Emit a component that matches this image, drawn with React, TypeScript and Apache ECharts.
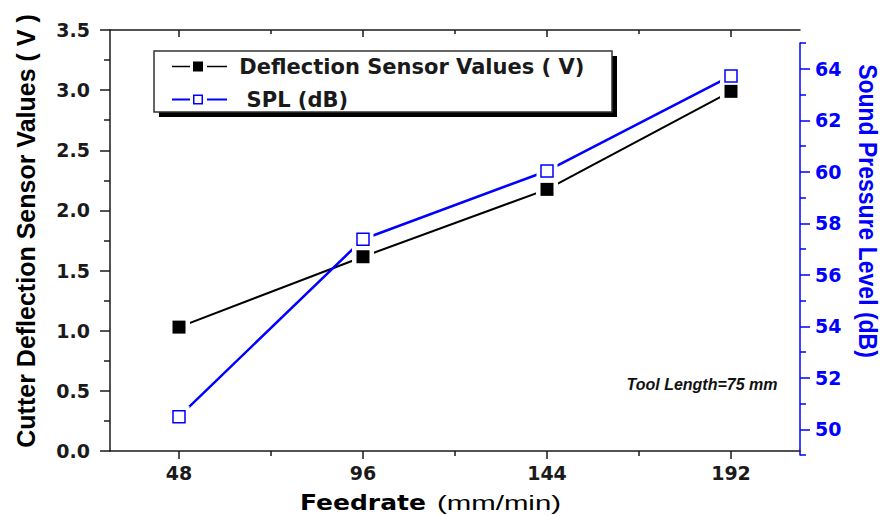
import React, { useEffect, useRef } from "react";
import * as echarts from "echarts";

// ---- data ----
const feedrates = [48, 96, 144, 192];
const deflectionV = [1.03, 1.615, 2.175, 2.99];
const splDb = [50.49, 57.38, 60.03, 63.72];
const xTickValues = [48, 96, 144, 192];
const xMinorTickValues = [72, 120, 168];
const splTickValues = [50, 52, 54, 56, 58, 60, 62, 64];
const splMinorTickValues = [49, 51, 53, 55, 57, 59, 61, 63, 65];

const NAME_DEFL = "Deflection Sensor Values ( V)";
const NAME_SPL = "SPL (dB)";
const X_TITLE_BOLD = "Feedrate";
const X_TITLE_UNIT = "(mm/min)";
const Y_LEFT_TITLE = "Cutter Deflection Sensor Values ( V )";
const Y_RIGHT_TITLE = "Sound Pressure Level (dB)";
const NOTE = "Tool Length=75 mm";

const BLUE = "#0000ff";
const DARK = "#1a1a1a";
const TICK_FONT = "DejaVu Sans";

const deflData = feedrates.map((f, i) => [f, deflectionV[i]]);
const splData = feedrates.map((f, i) => [f, splDb[i]]);

// legend icons: line - gap - square - gap - line (Origin style)
const ICON_FILLED =
  "path://M0,4.2L18,4.2L18,5.8L0,5.8Z M21,0L31,0L31,10L21,10Z M35,4.2L55,4.2L55,5.8L35,5.8Z";
const ICON_HOLLOW =
  "path://M0,4L18,4L18,6L0,6Z M21,0L31,0L31,10L21,10Z M22.5,1.5L22.5,8.5L29.5,8.5L29.5,1.5Z M35,4L55,4L55,6L35,6Z";

const tickLabelStyle = {
  fontFamily: TICK_FONT,
  fontWeight: "bold" as const,
  fontSize: 19,
  color: DARK,
};

function buildOption(): any {
  const xBase = {
    type: "value",
    min: 30,
    max: 210,
    splitLine: { show: false },
  };
  return {
    animation: false,
    backgroundColor: "#ffffff",
    grid: [
      { left: 110, right: 86, top: 30, bottom: 65 },
      { left: 110, right: 86, top: 43, bottom: 61 },
    ],
    xAxis: [
      {
        ...xBase,
        gridIndex: 0,
        position: "bottom",
        axisLine: { show: true, onZero: false, lineStyle: { color: DARK, width: 1.5 } },
        axisTick: { show: true, customValues: xTickValues, length: 8, lineStyle: { color: DARK, width: 1.5 } },
        axisLabel: { show: true, customValues: xTickValues, margin: 12, ...tickLabelStyle },
      },
      {
        ...xBase,
        gridIndex: 0,
        position: "bottom",
        axisLine: { show: false, onZero: false },
        axisTick: { show: true, customValues: xMinorTickValues, length: 5, lineStyle: { color: DARK, width: 1.5 } },
        axisLabel: { show: false },
      },
      {
        ...xBase,
        gridIndex: 0,
        position: "top",
        axisLine: { show: true, onZero: false, lineStyle: { color: DARK, width: 1.5 } },
        axisTick: { show: true, inside: true, customValues: xTickValues, length: 7, lineStyle: { color: DARK, width: 1.5 } },
        axisLabel: { show: false },
      },
      {
        ...xBase,
        gridIndex: 0,
        position: "top",
        axisLine: { show: false, onZero: false },
        axisTick: { show: true, inside: true, customValues: xMinorTickValues, length: 4, lineStyle: { color: DARK, width: 1.5 } },
        axisLabel: { show: false },
      },
      {
        ...xBase,
        gridIndex: 1,
        show: false,
        axisLine: { onZero: false },
      },
    ],
    yAxis: [
      {
        type: "value",
        gridIndex: 0,
        position: "left",
        min: 0,
        max: 3.5,
        interval: 0.5,
        axisLine: { show: true, onZero: false, lineStyle: { color: DARK, width: 1.5 } },
        axisTick: { show: true, length: 10, lineStyle: { color: DARK, width: 1.5 } },
        minorTick: { show: true, splitNumber: 2, length: 6, lineStyle: { color: DARK, width: 1.5 } },
        axisLabel: { margin: 20, formatter: (v: number) => v.toFixed(1), ...tickLabelStyle },
        splitLine: { show: false },
        minorSplitLine: { show: false },
      },
      {
        type: "value",
        gridIndex: 1,
        position: "right",
        min: 49,
        max: 65,
        axisLine: { show: true, onZero: false, lineStyle: { color: BLUE, width: 1.5 } },
        axisTick: { show: true, customValues: splTickValues, length: 10, lineStyle: { color: BLUE, width: 1.5 } },
        axisLabel: { customValues: splTickValues, margin: 15, ...tickLabelStyle, color: BLUE },
        splitLine: { show: false },
      },
      {
        type: "value",
        gridIndex: 1,
        position: "right",
        min: 49,
        max: 65,
        axisLine: { show: false, onZero: false },
        axisTick: { show: true, customValues: splMinorTickValues, length: 6, lineStyle: { color: BLUE, width: 1.5 } },
        axisLabel: { show: false },
        splitLine: { show: false },
      },
    ],
    legend: {
      orient: "vertical",
      left: 154,
      top: 50,
      z: 20,
      data: [
        { name: NAME_DEFL, icon: ICON_FILLED, itemStyle: { color: "#000", borderWidth: 0 } },
        { name: NAME_SPL, icon: ICON_HOLLOW, itemStyle: { color: BLUE, borderWidth: 0 } },
      ],
      formatter: (n: string) => (n === NAME_SPL ? "  " + n : " " + n),
      itemWidth: 55,
      itemHeight: 10,
      itemGap: 12,
      padding: [6, 40, 2, 18],
      selectedMode: false,
      textStyle: { fontFamily: TICK_FONT, fontWeight: "bold", fontSize: 21, color: DARK },
    },
    graphic: [
      { type: "rect", z: 10, shape: { x: 159, y: 56, width: 458, height: 61 }, style: { fill: "#000" } },
      { type: "rect", z: 11, shape: { x: 154, y: 51, width: 458, height: 61 }, style: { fill: "#fff", stroke: "#333", lineWidth: 1.5 } },
      {
        type: "text",
        x: 26,
        y: 231,
        rotation: Math.PI / 2,
        style: {
          text: Y_LEFT_TITLE,
          fontFamily: "Liberation Sans",
          fontWeight: "bold",
          fontSize: 25,
          fill: "#000",
          align: "center",
          verticalAlign: "middle",
        },
      },
      {
        type: "text",
        x: 868,
        y: 211,
        rotation: -Math.PI / 2,
        scaleY: 1.1,
        style: {
          text: Y_RIGHT_TITLE,
          fontFamily: "Liberation Sans",
          fontWeight: "bold",
          fontSize: 23,
          fill: BLUE,
          align: "center",
          verticalAlign: "middle",
        },
      },
      {
        type: "text",
        x: 300,
        y: 503,
        scaleX: 1.19,
        style: {
          text: X_TITLE_BOLD,
          fontFamily: TICK_FONT,
          fontWeight: "bold",
          fontSize: 21,
          fill: "#000",
          align: "left",
          verticalAlign: "middle",
        },
      },
      {
        type: "text",
        x: 437,
        y: 503,
        scaleX: 1.4,
        style: {
          text: X_TITLE_UNIT,
          fontFamily: "Liberation Sans",
          fontWeight: "normal",
          fontSize: 21,
          fill: "#000",
          align: "left",
          verticalAlign: "middle",
        },
      },
      {
        type: "text",
        x: 702,
        y: 384,
        style: {
          text: NOTE,
          fontFamily: "Liberation Sans",
          fontWeight: "bold",
          fontStyle: "italic",
          fontSize: 16,
          fill: "#111",
          align: "center",
          verticalAlign: "middle",
        },
      },
    ],
    series: [
      {
        name: NAME_DEFL,
        type: "line",
        xAxisIndex: 0,
        yAxisIndex: 0,
        data: deflData,
        symbol: "rect",
        symbolSize: 13,
        itemStyle: { color: "#000" },
        lineStyle: { color: "#000", width: 2 },
        z: 2,
      },
      {
        name: NAME_SPL,
        type: "line",
        xAxisIndex: 4,
        yAxisIndex: 1,
        data: splData,
        symbol: "rect",
        symbolSize: 12,
        itemStyle: { color: "#fff", borderColor: BLUE, borderWidth: 1.5 },
        lineStyle: { color: BLUE, width: 2.5 },
        z: 2,
      },
      {
        name: "pad-defl",
        type: "scatter",
        xAxisIndex: 0,
        yAxisIndex: 0,
        data: deflData,
        symbol: "rect",
        symbolSize: 22,
        itemStyle: { color: "#ffffff", opacity: 1 },
        silent: true,
        z: 5,
      },
      {
        name: "pad-spl",
        type: "scatter",
        xAxisIndex: 4,
        yAxisIndex: 1,
        data: splData,
        symbol: "rect",
        symbolSize: 21,
        itemStyle: { color: "#ffffff", opacity: 1 },
        silent: true,
        z: 5,
      },
      {
        name: "mark-defl",
        type: "scatter",
        xAxisIndex: 0,
        yAxisIndex: 0,
        data: deflData,
        symbol: "rect",
        symbolSize: 13,
        itemStyle: { color: "#000", opacity: 1 },
        z: 6,
      },
      {
        name: "mark-spl",
        type: "scatter",
        xAxisIndex: 4,
        yAxisIndex: 1,
        data: splData,
        symbol: "rect",
        symbolSize: 12,
        itemStyle: { color: "#fff", borderColor: BLUE, borderWidth: 1.5, opacity: 1 },
        z: 6,
      },
    ],
  };
}

export default function App() {
  const ref = useRef<HTMLDivElement>(null);
  useEffect(() => {
    if (!ref.current) return;
    const chart = echarts.init(ref.current, null, { renderer: "svg" });
    chart.setOption(buildOption());
    return () => chart.dispose();
  }, []);
  return (
    <div
      ref={ref}
      style={{ position: "fixed", left: 0, top: 0, width: 886, height: 516, background: "#fff" }}
    />
  );
}
